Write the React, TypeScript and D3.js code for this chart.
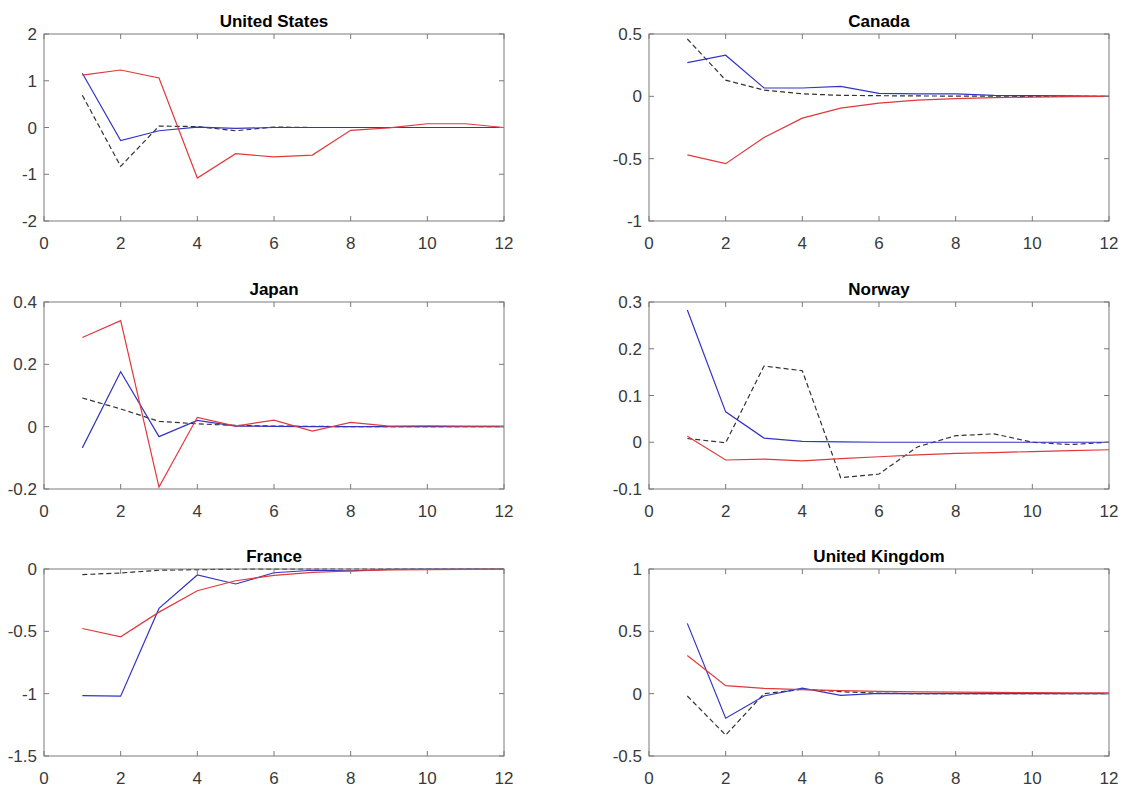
import React from 'react';
import * as d3 from 'd3';

// Horizons (x values)
const horizons = [1, 2, 3, 4, 5, 6, 7, 8, 9, 10, 11, 12];
const xTicks = [0, 2, 4, 6, 8, 10, 12];

// Country titles
const countries = ['United States', 'Canada', 'Japan', 'Norway', 'France', 'United Kingdom'];

// Y domains and ticks
const usTicks = [-2, -1, 0, 1, 2];
const caTicks = [-1, -0.5, 0, 0.5];
const jpTicks = [-0.2, 0, 0.2, 0.4];
const noTicks = [-0.1, 0, 0.1, 0.2, 0.3];
const frTicks = [-1.5, -1, -0.5, 0];
const ukTicks = [-0.5, 0, 0.5, 1];

// United States
const usRed = [1.12, 1.23, 1.06, -1.08, -0.56, -0.63, -0.59, -0.06, -0.01, 0.08, 0.08, 0];
const usBlue = [1.16, -0.28, -0.07, 0.01, -0.02, 0, 0, 0, 0, 0, 0, 0];
const usBlack = [0.69, -0.83, 0.03, 0.02, -0.07, 0.01, 0, 0, 0, 0, 0, 0];

// Canada
const caRed = [-0.47, -0.54, -0.33, -0.175, -0.095, -0.055, -0.03, -0.018, -0.01, -0.006, -0.003, 0];
const caBlue = [0.27, 0.33, 0.067, 0.067, 0.08, 0.024, 0.02, 0.02, 0.008, 0.005, 0.003, 0];
const caBlack = [0.46, 0.13, 0.05, 0.02, 0.008, 0.005, 0.003, 0.002, 0.001, 0, 0, 0];

// Japan
const jpRed = [0.286, 0.34, -0.194, 0.03, 0.002, 0.021, -0.014, 0.014, 0.002, 0.003, 0.002, 0.002];
const jpBlue = [-0.068, 0.176, -0.032, 0.02, 0.002, 0.001, 0, 0, 0, 0, 0, 0];
const jpBlack = [0.092, 0.057, 0.017, 0.009, 0.004, 0.002, 0.001, 0, 0, 0, 0, 0];

// Norway
const noRed = [0.013, -0.038, -0.036, -0.04, -0.035, -0.031, -0.027, -0.024, -0.022, -0.02, -0.018, -0.016];
const noBlue = [0.283, 0.065, 0.009, 0.002, 0.001, 0, 0, 0, 0, 0, 0, 0];
const noBlack = [0.008, -0.001, 0.163, 0.153, -0.076, -0.068, -0.01, 0.014, 0.018, 0, -0.005, 0];

// France
const frRed = [-0.477, -0.544, -0.346, -0.174, -0.094, -0.051, -0.027, -0.016, -0.008, -0.005, -0.003, 0];
const frBlue = [-1.015, -1.02, -0.316, -0.048, -0.12, -0.03, -0.01, -0.015, -0.003, 0, 0, 0];
const frBlack = [-0.045, -0.032, -0.01, -0.005, -0.002, -0.001, 0, 0, 0, 0, 0, 0];

// United Kingdom
const ukRed = [0.306, 0.064, 0.043, 0.032, 0.024, 0.019, 0.015, 0.012, 0.01, 0.008, 0.007, 0.006];
const ukBlue = [0.564, -0.197, -0.019, 0.045, -0.013, 0.003, 0, 0, 0, 0, 0, 0];
const ukBlack = [-0.019, -0.332, 0, 0.035, 0.016, 0.003, 0, 0, 0, 0, 0, 0];

const panelTicks = [usTicks, caTicks, jpTicks, noTicks, frTicks, ukTicks];
const panelSeries = [
  [usRed, usBlue, usBlack],
  [caRed, caBlue, caBlack],
  [jpRed, jpBlue, jpBlack],
  [noRed, noBlue, noBlack],
  [frRed, frBlue, frBlack],
  [ukRed, ukBlue, ukBlack],
];

const W = 1122;
const H = 787;
const colLefts = [44, 649];
const rowTops = [34, 302, 569];
const plotW = 460;
const plotH = 187;
const tickLen = 5;

const RED = '#e0383c';
const BLUE = '#3434c4';
const BLACK = '#333333';
const AXIS = '#7a7a7a';
const LABEL = '#3a3a3a';
const FONT = '"Liberation Sans Narrow", "Liberation Sans", Arial, sans-serif';

const fmt = (v: number) => `${+v.toFixed(2)}`;

function Panel({ idx }: { idx: number }) {
  const left = colLefts[idx % 2];
  const top = rowTops[Math.floor(idx / 2)];
  const ticks = panelTicks[idx];
  const series = panelSeries[idx];
  const x = d3.scaleLinear().domain([0, 12]).range([left, left + plotW]);
  const y = d3
    .scaleLinear()
    .domain([ticks[0], ticks[ticks.length - 1]])
    .range([top + plotH, top]);
  const line = d3
    .line<number>()
    .x((_, i) => x(horizons[i]))
    .y((d) => y(d));
  const styles = [
    { stroke: RED, dash: undefined },
    { stroke: BLUE, dash: undefined },
    { stroke: BLACK, dash: '5,3' },
  ];
  const clipId = `clip${idx}`;
  return (
    <g>
      <defs>
        <clipPath id={clipId}>
          <rect x={left} y={top - 1} width={plotW} height={plotH + 2} />
        </clipPath>
      </defs>
      <text
        x={left + plotW / 2}
        y={top - 7}
        textAnchor="middle"
        fontFamily={FONT}
        fontWeight="bold"
        fontSize={17}
        fill="#000"
      >
        {countries[idx]}
      </text>
      <g clipPath={`url(#${clipId})`}>
        {[series[2], series[1], series[0]].map((s, k) => {
          const st = styles[2 - k];
          return (
            <path
              key={k}
              d={line(s) || ''}
              fill="none"
              stroke={st.stroke}
              strokeWidth={1.2}
              strokeDasharray={st.dash}
            />
          );
        })}
      </g>
      <rect x={left} y={top} width={plotW} height={plotH} fill="none" stroke={AXIS} strokeWidth={1} />
      {xTicks.map((t) => (
        <g key={`x${t}`}>
          <line x1={x(t)} x2={x(t)} y1={top + plotH} y2={top + plotH - tickLen} stroke={AXIS} />
          <line x1={x(t)} x2={x(t)} y1={top} y2={top + tickLen} stroke={AXIS} />
          <text
            x={x(t)}
            y={top + plotH + 28}
            textAnchor="middle"
            fontFamily={FONT}
            fontSize={17}
            fill={LABEL}
          >
            {t}
          </text>
        </g>
      ))}
      {ticks.map((t) => (
        <g key={`y${t}`}>
          <line x1={left} x2={left + tickLen} y1={y(t)} y2={y(t)} stroke={AXIS} />
          <line x1={left + plotW} x2={left + plotW - tickLen} y1={y(t)} y2={y(t)} stroke={AXIS} />
          <text
            x={left - 7}
            y={y(t)}
            dy="0.36em"
            textAnchor="end"
            fontFamily={FONT}
            fontSize={17}
            fill={LABEL}
          >
            {fmt(t)}
          </text>
        </g>
      ))}
    </g>
  );
}

export default function App() {
  return (
    <svg
      width={W}
      height={H}
      viewBox={`0 0 ${W} ${H}`}
      style={{ position: 'absolute', left: 0, top: 0, background: '#fff' }}
    >
      <rect x={0} y={0} width={W} height={H} fill="#fff" />
      {countries.map((_, i) => (
        <Panel key={i} idx={i} />
      ))}
    </svg>
  );
}
